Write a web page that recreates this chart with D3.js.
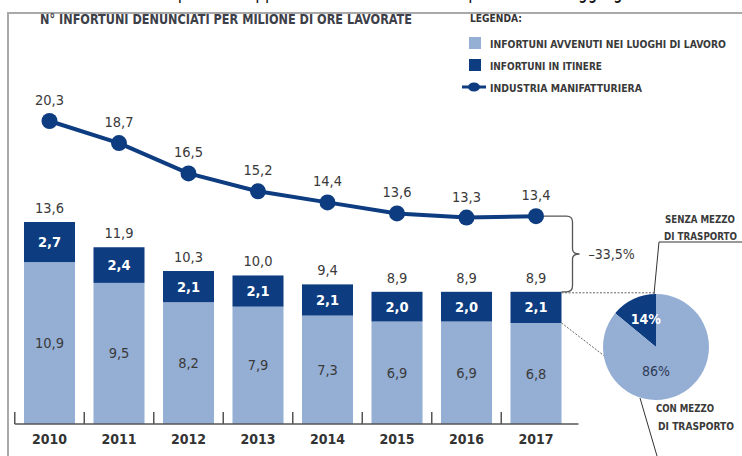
<!DOCTYPE html>
<html>
<head>
<meta charset="utf-8">
<script src="https://cdn.jsdelivr.net/npm/d3@7"></script>
<style>
  html, body { margin: 0; padding: 0; background: #fff; }
  svg { display: block; }
  text { font-family: "Liberation Sans Narrow", "DejaVu Sans Condensed", "Arial Narrow", sans-serif; }
</style>
</head>
<body>
<svg id="chart" width="742" height="456"></svg>
<script>
// ---------- DATA ----------
const years = ["2010", "2011", "2012", "2013", "2014", "2015", "2016", "2017"];
const luoghiLavoro = [10.9, 9.5, 8.2, 7.9, 7.3, 6.9, 6.9, 6.8];
const inItinere = [2.7, 2.4, 2.1, 2.1, 2.1, 2.0, 2.0, 2.1];
const totali = [13.6, 11.9, 10.3, 10.0, 9.4, 8.9, 8.9, 8.9];
const manifatturiera = [20.3, 18.7, 16.5, 15.2, 14.4, 13.6, 13.3, 13.4];
const pieLabels = ["SENZA MEZZO DI TRASPORTO", "CON MEZZO DI TRASPORTO"];
const pieValues = [14, 86];
const variazione = "\u201333,5%";
const titolo = "N\u00B0 INFORTUNI DENUNCIATI PER MILIONE DI ORE LAVORATE";
const legendaTitolo = "LEGENDA:";
const legendaVoci = ["INFORTUNI AVVENUTI NEI LUOGHI DI LAVORO", "INFORTUNI IN ITINERE", "INDUSTRIA MANIFATTURIERA"];
const testoSopra = "Le cifre sotto riportate rappresentano il numero complessivo dell\u2019aggregato de";

// ---------- STYLE ----------
const LIGHT = "#94aed4";
const DARK = "#0d3c80";
const TXT = "#3a3a3a";
const fmt = v => d3.format(".1f")(v).replace(".", ",");

const svg = d3.select("#chart");

// clipped text line at the very top (cut off in the reference too)
svg.append("text").attr("x", 62).attr("y", -2)
  .attr("font-family", "'Open Sans', sans-serif").attr("font-size", 24).attr("fill", "#111")
  .attr("textLength", 610).attr("lengthAdjust", "spacingAndGlyphs")
  .text(testoSopra);

// frame
svg.append("path").attr("d", "M8,456 V13 H742").attr("fill", "none")
  .attr("stroke", "#a9a9a9").attr("stroke-width", 2);

// title
svg.append("text").attr("x", 40).attr("y", 24)
  .attr("font-size", 13.5).attr("font-weight", "bold").attr("fill", "#3d4048")
  .attr("textLength", 372).attr("lengthAdjust", "spacingAndGlyphs")
  .text(titolo);

// ---------- SCALES ----------
const x = d3.scaleBand().domain(years).range([14.75, 570.75]).paddingInner(0.266).paddingOuter(0.133);
const yBar = d3.scaleLinear().domain([0, 13.6]).range([424, 222]);
const yLine = d3.scaleLinear().domain([0, 20.3]).range([401, 121]);

// ---------- STACKED BARS ----------
const rows = years.map((y, i) => ({ year: y, luoghi: luoghiLavoro[i], itinere: inItinere[i], tot: totali[i] }));
const stack = d3.stack().keys(["luoghi", "itinere"])(rows);
const colors = { luoghi: LIGHT, itinere: DARK };

const gBars = svg.append("g");
stack.forEach(layer => {
  gBars.selectAll(null).data(layer).enter().append("rect")
    .attr("x", d => x(d.data.year))
    .attr("width", x.bandwidth())
    .attr("y", d => yBar(d[1]))
    .attr("height", d => yBar(d[0]) - yBar(d[1]))
    .attr("fill", colors[layer.key]);
});

// labels inside bars
stack.forEach(layer => {
  gBars.selectAll(null).data(layer).enter().append("text")
    .attr("x", d => x(d.data.year) + x.bandwidth() / 2)
    .attr("y", d => (yBar(d[0]) + yBar(d[1])) / 2 + 5)
    .attr("text-anchor", "middle")
    .attr("font-size", 14.5)
    .attr("font-weight", layer.key === "itinere" ? "bold" : "normal")
    .attr("fill", layer.key === "itinere" ? "#fff" : TXT)
    .text(d => fmt(d.data[layer.key]));
});

// totals above bars
gBars.selectAll(null).data(rows).enter().append("text")
  .attr("x", d => x(d.year) + x.bandwidth() / 2)
  .attr("y", d => yBar(d.tot) - 9)
  .attr("text-anchor", "middle")
  .attr("font-size", 14.5).attr("fill", TXT)
  .text(d => fmt(d.tot));

// ---------- AXIS ----------
const step = x.step();
const gap = step - x.bandwidth();
const axisY = yBar(0);
svg.append("line").attr("x1", x(years[0]) - gap / 2).attr("x2", x(years[years.length - 1]) + x.bandwidth() + 17)
  .attr("y1", axisY).attr("y2", axisY).attr("stroke", "#555").attr("stroke-width", 1.5);
svg.append("g").selectAll("line").data(years).enter().append("line")
  .attr("x1", d => x(d) - gap / 2).attr("x2", d => x(d) - gap / 2)
  .attr("y1", axisY).attr("y2", axisY - 12)
  .attr("stroke", "#555").attr("stroke-width", 1.5);

const xAxis = svg.append("g").attr("transform", `translate(0,${axisY})`)
  .call(d3.axisBottom(x).tickSize(0).tickPadding(10));
xAxis.select(".domain").remove();
xAxis.selectAll("text")
  .attr("font-family", "'Liberation Sans Narrow', 'DejaVu Sans Condensed', sans-serif")
  .attr("font-size", 14).attr("font-weight", "bold").attr("fill", "#333");

// ---------- LINE ----------
const line = d3.line().x((d, i) => x(years[i]) + x.bandwidth() / 2).y(d => yLine(d));
svg.append("path").datum(manifatturiera).attr("d", line)
  .attr("fill", "none").attr("stroke", DARK).attr("stroke-width", 4).attr("stroke-linejoin", "round");
svg.append("g").selectAll("circle").data(manifatturiera).enter().append("circle")
  .attr("cx", (d, i) => x(years[i]) + x.bandwidth() / 2).attr("cy", d => yLine(d))
  .attr("r", 8).attr("fill", DARK);
svg.append("g").selectAll("text").data(manifatturiera).enter().append("text")
  .attr("x", (d, i) => x(years[i]) + x.bandwidth() / 2).attr("y", d => yLine(d) - 16)
  .attr("text-anchor", "middle").attr("font-size", 14.5).attr("fill", TXT)
  .text(d => fmt(d));

// ---------- BRACE ----------
const last = years.length - 1;
const lx = x(years[last]) + x.bandwidth() / 2;
const bx = x(years[last]) + x.bandwidth();
const bTop = yLine(manifatturiera[last]);
const bBot = yBar(totali[last]);
const bMid = (bTop + bBot) / 2;
const vx = bx + 11;
svg.append("path")
  .attr("d", `M${lx + 8},${bTop} H${vx - 6} Q${vx},${bTop} ${vx},${bTop + 6} V${bMid - 5} Q${vx},${bMid} ${vx + 7},${bMid} Q${vx},${bMid} ${vx},${bMid + 5} V${bBot - 6} Q${vx},${bBot} ${vx - 6},${bBot} H${bx}`)
  .attr("fill", "none").attr("stroke", "#555").attr("stroke-width", 1.3);
svg.append("text").attr("x", vx + 16).attr("y", bMid + 5)
  .attr("font-size", 14).attr("fill", TXT).text(variazione);

// ---------- PIE ----------
const cx = 656, cy = 347, r = 53;
const pie = d3.pie().sort(null).startAngle(-2 * Math.PI * pieValues[0] / 100).endAngle(2 * Math.PI - 2 * Math.PI * pieValues[0] / 100);
const arcs = pie(pieValues);
const arc = d3.arc().innerRadius(0).outerRadius(r);

// dotted connectors from last bar
const divY = yBar(luoghiLavoro[last]);
svg.append("line").attr("x1", bx).attr("y1", bBot + 1).attr("x2", cx).attr("y2", bBot + 1)
  .attr("stroke", "#666").attr("stroke-width", 1).attr("stroke-dasharray", "2,1.5");
svg.append("line").attr("x1", bx).attr("y1", divY).attr("x2", cx - r + 8).attr("y2", cy + 14)
  .attr("stroke", "#666").attr("stroke-width", 1).attr("stroke-dasharray", "2,1.5");

const gPie = svg.append("g").attr("transform", `translate(${cx},${cy})`);
gPie.selectAll("path").data(arcs).enter().append("path")
  .attr("d", arc).attr("fill", (d, i) => i === 0 ? DARK : LIGHT);
gPie.append("text").attr("x", arc.centroid(arcs[0])[0] * 0.9).attr("y", arc.centroid(arcs[0])[1] + 1)
  .attr("text-anchor", "middle").attr("font-size", 14).attr("font-weight", "bold").attr("fill", "#fff")
  .text(pieValues[0] + "%");
gPie.append("text").attr("x", 0).attr("y", r * 0.55)
  .attr("text-anchor", "middle").attr("font-size", 14).attr("fill", "#2f3a55")
  .text(pieValues[1] + "%");

// leader lines
svg.append("path").attr("d", `M742,242 H659 L${cx - 2},${cy - r}`)
  .attr("fill", "none").attr("stroke", "#333").attr("stroke-width", 1);
svg.append("path").attr("d", `M${cx - 16},${cy + r - 2} L${cx + 1},456`)
  .attr("fill", "none").attr("stroke", "#333").attr("stroke-width", 1);

// pie labels
function twoLines(label) {
  const parts = label.split(" ");
  return [parts.slice(0, 2).join(" "), parts.slice(2).join(" ")];
}
const senza = twoLines(pieLabels[0]);
svg.append("text").attr("x", 665).attr("y", 223).attr("font-size", 10).attr("font-weight", "bold").attr("fill", "#3a3a3a")
  .attr("textLength", 70).attr("lengthAdjust", "spacingAndGlyphs").text(senza[0]);
svg.append("text").attr("x", 664).attr("y", 240).attr("font-size", 10).attr("font-weight", "bold").attr("fill", "#3a3a3a")
  .attr("textLength", 73).attr("lengthAdjust", "spacingAndGlyphs").text(senza[1]);
const con = twoLines(pieLabels[1]);
svg.append("text").attr("x", 656).attr("y", 412).attr("font-size", 10.5).attr("font-weight", "bold").attr("fill", "#3a3a3a")
  .attr("textLength", 58).attr("lengthAdjust", "spacingAndGlyphs").text(con[0]);
svg.append("text").attr("x", 658).attr("y", 430).attr("font-size", 10.5).attr("font-weight", "bold").attr("fill", "#3a3a3a")
  .attr("textLength", 76).attr("lengthAdjust", "spacingAndGlyphs").text(con[1]);

// ---------- LEGEND ----------
const gLeg = svg.append("g");
gLeg.append("text").attr("x", 470).attr("y", 22).attr("font-size", 11).attr("font-weight", "bold").attr("fill", "#333")
  .attr("textLength", 52).attr("lengthAdjust", "spacingAndGlyphs").text(legendaTitolo);
const legRowsY = [43, 65, 87];
const legWidths = [236, 112, 152];
gLeg.append("rect").attr("x", 469).attr("y", legRowsY[0] - 6).attr("width", 12).attr("height", 12).attr("fill", LIGHT);
gLeg.append("rect").attr("x", 469).attr("y", legRowsY[1] - 6).attr("width", 12).attr("height", 12).attr("fill", DARK);
gLeg.append("line").attr("x1", 462).attr("x2", 486).attr("y1", legRowsY[2]).attr("y2", legRowsY[2])
  .attr("stroke", DARK).attr("stroke-width", 3);
gLeg.append("ellipse").attr("cx", 474).attr("cy", legRowsY[2]).attr("rx", 6).attr("ry", 4.5).attr("fill", DARK);
legendaVoci.forEach((t, i) => {
  gLeg.append("text").attr("x", 490).attr("y", legRowsY[i] + 4.5)
    .attr("font-size", 10.5).attr("font-weight", "bold").attr("fill", "#3a3a3a")
    .attr("textLength", legWidths[i]).attr("lengthAdjust", "spacingAndGlyphs").text(t);
});
</script>
</body>
</html>
